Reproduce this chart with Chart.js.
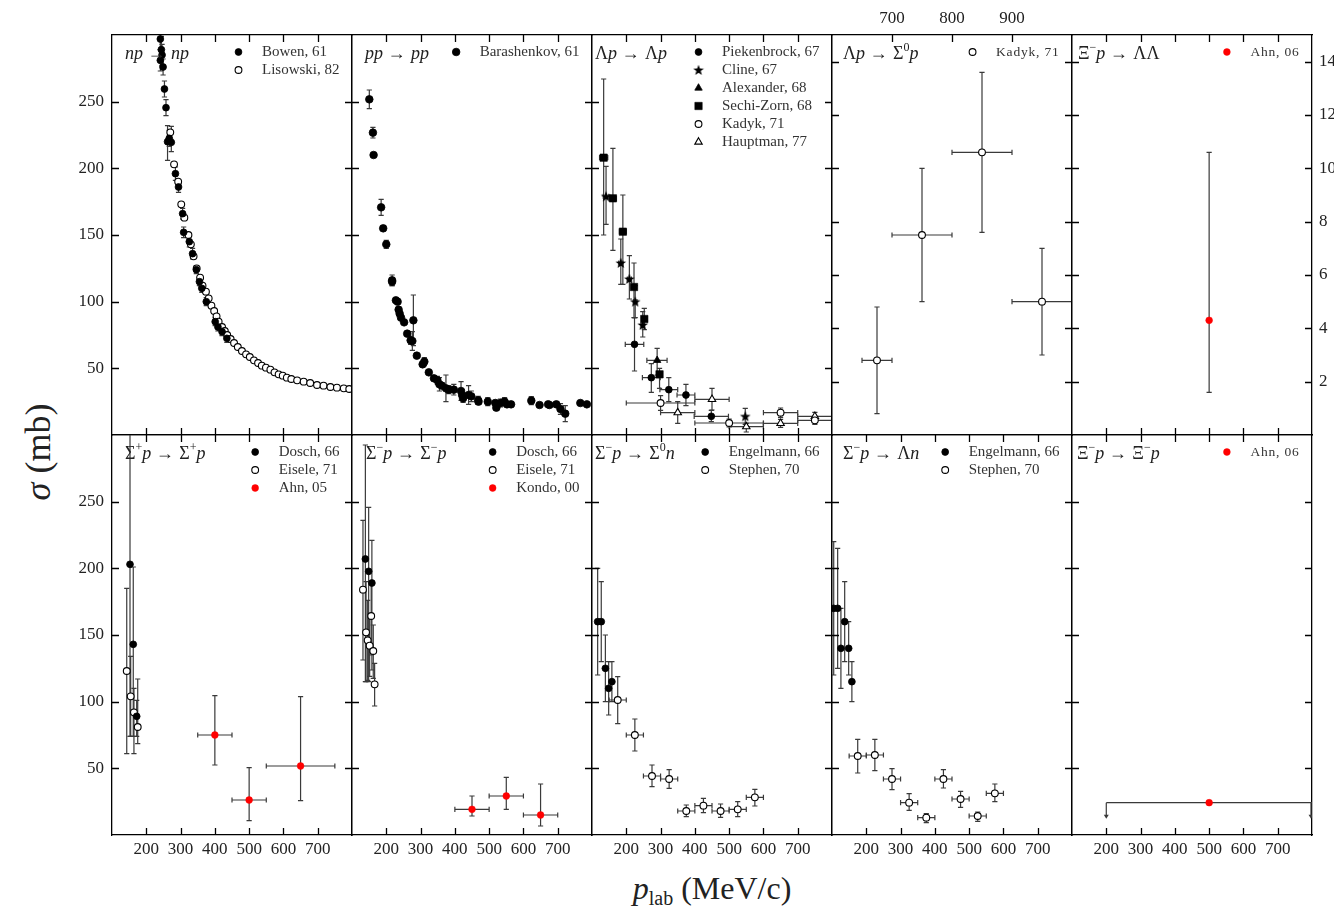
<!DOCTYPE html>
<html>
<head>
<meta charset="utf-8">
<script src="https://cdn.jsdelivr.net/npm/chart.js@4.4.1/dist/chart.umd.min.js"></script>
<style>
  body { margin: 0; background: #fff; width: 1334px; height: 913px; position: relative; overflow: hidden;
         font-family: "Liberation Serif", serif; color: #222; }
  canvas { position: absolute; }
  #ylab { position: absolute; left: 38px; top: 452px; transform: translate(-50%, -50%) rotate(-90deg);
          font-size: 36px; white-space: nowrap; }
  #xlab { position: absolute; left: 712px; top: 890px; transform: translate(-50%, -50%);
          font-size: 32px; white-space: nowrap; line-height: 1; }
  #xlab sub { font-size: 20px; vertical-align: -6px; }
</style>
</head>
<body>
<div id="ylab"><i>σ</i> (mb)</div>
<div id="xlab"><i>p</i><sub>lab</sub> (MeV/c)</div>
<script>
// rows: [p_lab, sigma, errDown, errUp, errLeft, errRight]

// np -> np
const npBowen61 = [
  [241, 297, 8, 8], [244, 289, 10, 10], [246, 285, 8, 8], [241, 281, 8, 8], [249, 276, 6, 6],
  [253, 259.5, 6, 6], [257.5, 245.5, 6, 6], [262, 220, 14, 12], [267, 222.5, 6, 6], [273, 219.5, 7, 12],
  [285, 196, 5, 5], [294, 186, 4, 4], [306, 166, 4, 4], [309, 152, 4, 4], [325.5, 145, 4, 4],
  [335, 136, 4, 4], [346, 124, 3, 3], [355, 115, 3, 3], [362, 110, 3, 3], [375, 100, 3, 3],
  [401, 85, 3, 3], [409, 81, 3, 3], [421, 77.5, 3, 3], [435, 72.5, 3, 3]
];
const npLisowski82 = [
  [270, 227], [281, 203], [293, 190], [302, 173], [311, 163], [323, 150], [330, 143], [338, 134],
  [347, 125], [357, 118], [364, 112], [374, 107.5], [382, 102.5], [390, 97], [398, 93], [405, 89],
  [411, 85], [421, 81], [429, 78], [436, 75], [446, 72], [456, 69], [467, 66], [479, 63],
  [491, 60.5], [502, 58.5], [514, 56], [526, 54], [537, 52], [549, 50.5], [562, 49], [574, 47],
  [586, 45.5], [598, 44.5], [610, 43], [623, 42], [640, 41], [659, 40], [678, 39], [698, 37.5],
  [717, 37], [737, 36], [756, 35.5], [776, 35], [792, 34.5]
];

// pp -> pp
const ppBarashenkov61 = [
  [150.5, 251.75, 7, 7], [161, 226.75, 4, 4], [163, 210], [185, 170.75, 6, 6], [191, 155, 2, 2],
  [200, 143, 3, 3], [217, 116, 4, 4], [217, 115, 3, 3], [228, 101], [233, 100], [236, 94],
  [239, 91], [243, 88], [252, 84.5], [261, 76], [271, 71, 3, 3], [279, 86, 19, 19],
  [276, 70.5, 7, 7], [289, 59.5], [306, 53, 2, 2], [311, 55, 3, 3], [324, 47], [339, 42.5, 2, 2],
  [349, 41, 3, 3], [355, 38, 5, 5], [362, 37, 2, 2], [374, 35, 10, 10], [382, 34, 3, 3],
  [397, 34, 4, 4], [418, 33, 7, 7], [421, 30, 4, 4], [424, 27.5, 3, 3], [440, 30, 7, 7],
  [448, 29, 4, 4], [468, 26, 3, 3], [469, 25, 2, 2], [496, 25, 3, 3], [518, 24, 2, 2],
  [521, 20.5, 2, 2], [533, 24, 3, 3], [545, 25, 3, 3], [552, 23, 2, 2], [564, 23, 2, 2],
  [623, 25.75, 3, 3], [647, 22.5], [672, 23, 1, 1], [676, 22.5, 1, 1], [696, 23, 2, 2],
  [708, 19.5, 4, 4], [722, 16, 6, 6], [766, 24], [785, 23]
];

// Lambda p -> Lambda p
const lpPiekenbrock67 = [
  [224, 68, 20, 20, 27, 27], [273, 43, 11, 10.5, 26, 26], [324, 34, 9, 9, 26, 26],
  [374, 30, 8, 8, 26, 26], [448, 14, 4, 4.5, 50, 50]
];
const lpCline67 = [
  [141, 179, 21, 22.5, 8, 8], [184, 129, 16, 18, 6, 6], [209, 117, 15, 17.5, 6, 6],
  [226, 100, 12, 12, 5, 5], [248, 82.5, 9, 10, 5, 5], [547, 14, 6, 6]
];
const lpAlexander68 = [[290, 56, 11, 9, 30, 29]];
const lpSechiZorn68 = [
  [134, 208, 58, 59, 12, 12], [161, 177.5, 39, 37.5, 10, 10], [190, 152.5, 39.5, 27.5, 10, 10],
  [222.5, 111, 23, 18, 8, 8], [252.5, 87, 8, 8, 8, 8], [297, 45.5, 10.5, 4.5, 8, 8]
];
const lpKadyk71 = [
  [300, 24, 5.5, 5.5, 100, 100], [500, 9, 3, 3, 100, 100],
  [650, 16.75, 3.5, 3.5, 50, 50], [750, 11, 3, 3, 50, 50]
];
const lpHauptman77 = [
  [350, 16.75, 8, 8.25, 50, 50], [450, 26.75, 8, 8.25, 50, 50], [550, 6.25, 4, 2.5, 50, 50],
  [650, 8.75, 3, 3, 50, 50], [750, 14, 3, 3, 50, 50]
];

// Lambda p -> Sigma0 p (right scale)
const lsKadyk71 = [
  [675, 2.8, 2, 2, 25, 25], [750, 7.5, 2.5, 2.5, 50, 50],
  [850, 10.6, 3, 3, 50, 50], [950, 5.0, 2, 2, 50, 50]
];

// Xi- p -> Lambda Lambda (right scale)
const xllAhn06 = [[500, 4.3, 2.7, 6.3]];

// Sigma+ p -> Sigma+ p
const spDosch66 = [[152.5, 203, 129, 120], [162, 143, 69, 58], [172, 89, 15, 12]];
const spEisele71 = [[143, 123, 62, 62], [154.5, 104, 30, 30], [164, 92, 31, 18], [175, 81, 12.5, 36]];
const spAhn05 = [[400, 75, 22.5, 29.5, 50, 50], [500, 26.25, 15.5, 24.25, 50, 50], [650, 51.75, 26, 52, 100, 100]];

// Sigma- p -> Sigma- p
const smDosch66 = [[139, 207, 92, 85.5], [148.6, 197.75, 82.75, 48], [158, 189, 65.25, 32]];
const smEisele71 = [
  [132, 184, 52.75, 52], [141, 152, 37, 38], [145.7, 146, 30, 30], [151.5, 142, 23, 22],
  [156, 164.25, 29.25, 25.75], [162, 138, 20.5, 19.5], [166, 113, 16.25, 15.75]
];
const smKondo00 = [[450, 19.25, 5, 10, 50, 50], [550, 29.25, 10, 14, 50, 50], [650, 15, 8.25, 23.25, 50, 50]];

// Sigma- p -> Sigma0 n
const s0Engelmann66 = [[116.5, 160, 40, 40], [127, 160, 30, 30], [139, 125, 25, 25], [148.6, 110, 20, 20], [158, 115, 15, 15]];
const s0Stephen70 = [
  [175, 101.25, 17.75, 17.5, 25, 25], [225, 75, 12, 12, 25, 25], [275, 44.25, 8, 8.25, 25, 25],
  [325, 42, 7, 7, 25, 25], [375, 18, 4.25, 4.5, 25, 25], [425, 22, 5.25, 5.5, 25, 25],
  [475, 18, 4.75, 5.25, 25, 25], [525, 19.25, 5.5, 5.75, 25, 25], [575, 28.25, 6.5, 6, 25, 25]
];

// Sigma- p -> Lambda n
const lnEngelmann66 = [[105, 170, 50, 50], [116.5, 170, 45, 45], [126, 140, 30, 30], [137, 160, 30, 30], [148.6, 140, 20, 20], [158, 115, 15, 15]];
const lnStephen70 = [
  [175, 59.25, 12.75, 12.5, 25, 25], [225, 60, 11.75, 11.75, 25, 25], [275, 42, 8, 7.75, 25, 25],
  [325, 24.25, 5.75, 6.75, 25, 25], [375, 13, 3.75, 3, 25, 25], [425, 42, 6.75, 7, 25, 25],
  [475, 27, 6.25, 5.75, 25, 25], [525, 14.25, 4, 3, 25, 25], [575, 31.25, 6.25, 7, 25, 25]
];

// Xi- p -> Xi- p (upper limit)
const xxAhn06 = [[500, 24.25, 0, 0, 300, 300]];

const xTicks = [100, 800, 100];
const xTicksHigh = [600, 1000, 100];
const yTicks = [0, 300, 50];
const yTicksSmall = [0, 15, 2];

// ---------------------------------------------------------------
const PW = 240, PH = 400, M = 60;
const colLeft = [112, 352, 592, 832, 1072];
const rowTop = [35, 435];
const FONT = '"Liberation Serif", "DejaVu Serif", serif';

const starImg = document.createElement('canvas');
starImg.width = 12; starImg.height = 12;
(function () {
  const c = starImg.getContext('2d');
  c.beginPath();
  for (let i = 0; i < 10; i++) {
    const r = i % 2 ? 2.3 : 5.6;
    const a = -Math.PI / 2 + i * Math.PI / 5;
    c.lineTo(6 + r * Math.cos(a), 6.4 + r * Math.sin(a));
  }
  c.closePath();
  c.fillStyle = '#000';
  c.fill();
})();

const styles = {
  filled:  { pointStyle: 'circle', pointRadius: 3.4, pointBackgroundColor: '#000', pointBorderColor: '#000', pointBorderWidth: 0.8 },
  big:     { pointStyle: 'circle', pointRadius: 3.8, pointBackgroundColor: '#000', pointBorderColor: '#000', pointBorderWidth: 0.8 },
  open:    { pointStyle: 'circle', pointRadius: 3.4, pointBackgroundColor: '#fff', pointBorderColor: '#000', pointBorderWidth: 1.1 },
  red:     { pointStyle: 'circle', pointRadius: 3.4, pointBackgroundColor: '#ff0000', pointBorderColor: '#ff0000', pointBorderWidth: 0.5 },
  star:    { pointStyle: starImg, pointRadius: 5, pointBackgroundColor: '#000', pointBorderColor: '#000', pointBorderWidth: 0 },
  tri:     { pointStyle: 'triangle', pointRadius: 4.3, pointBackgroundColor: '#000', pointBorderColor: '#000', pointBorderWidth: 0.8 },
  square:  { pointStyle: 'rect', pointRadius: 5.2, pointBackgroundColor: '#000', pointBorderColor: '#000', pointBorderWidth: 0.6 },
  openTri: { pointStyle: 'triangle', pointRadius: 4.3, pointBackgroundColor: '#fff', pointBorderColor: '#000', pointBorderWidth: 1.1 }
};

const panels = [
  { row: 0, col: 0, title: 'np → np', dx: 13, x: xTicks, y: yTicks, yLab: 'left',
    series: [['Bowen, 61', npBowen61, 'filled'], ['Lisowski, 82', npLisowski82, 'open']] },
  { row: 0, col: 1, title: 'pp → pp', dx: 13, x: xTicks, y: yTicks,
    series: [['Barashenkov, 61', ppBarashenkov61, 'big']] },
  { row: 0, col: 2, title: 'Λp → Λp', dx: 3, x: xTicks, y: yTicks,
    series: [['Piekenbrock, 67', lpPiekenbrock67, 'filled'], ['Cline, 67', lpCline67, 'star'],
             ['Alexander, 68', lpAlexander68, 'tri'], ['Sechi-Zorn, 68', lpSechiZorn68, 'square'],
             ['Kadyk, 71', lpKadyk71, 'open'], ['Hauptman, 77', lpHauptman77, 'openTri']] },
  { row: 0, col: 3, title: 'Λp → Σ^0p', dx: 11, x: xTicksHigh, y: yTicksSmall, xLab: 'top', noBottomTicks: true, small: true,
    series: [['Kadyk, 71', lsKadyk71, 'open']] },
  { row: 0, col: 4, title: 'Ξ^−p → ΛΛ', dx: 6, x: xTicks, y: yTicksSmall, yLab: 'right', small: true,
    series: [['Ahn, 06', xllAhn06, 'red']] },
  { row: 1, col: 0, title: 'Σ^+p → Σ^+p', dx: 13, x: xTicks, y: yTicks, yLab: 'left', xLab: 'bottom',
    series: [['Dosch, 66', spDosch66, 'filled'], ['Eisele, 71', spEisele71, 'open'], ['Ahn, 05', spAhn05, 'red']] },
  { row: 1, col: 1, title: 'Σ^−p → Σ^−p', dx: 14, x: xTicks, y: yTicks, xLab: 'bottom',
    series: [['Dosch, 66', smDosch66, 'filled'], ['Eisele, 71', smEisele71, 'open'], ['Kondo, 00', smKondo00, 'red']] },
  { row: 1, col: 2, title: 'Σ^−p → Σ^0n', dx: 3, x: xTicks, y: yTicks, xLab: 'bottom',
    series: [['Engelmann, 66', s0Engelmann66, 'filled'], ['Stephen, 70', s0Stephen70, 'open']] },
  { row: 1, col: 3, title: 'Σ^−p → Λn', dx: 11, x: xTicks, y: yTicks, xLab: 'bottom',
    series: [['Engelmann, 66', lnEngelmann66, 'filled'], ['Stephen, 70', lnStephen70, 'open']] },
  { row: 1, col: 4, title: 'Ξ^−p → Ξ^−p', dx: 5, x: xTicks, y: yTicks, xLab: 'bottom', small: true,
    series: [['Ahn, 06', xxAhn06, 'red', true]] }
];

// error bars, drawn under the markers
const errorBars = {
  id: 'errorBars',
  beforeDatasetsDraw(chart) {
    const { ctx, chartArea: a, scales: { x, y } } = chart;
    const cap = 2.6;
    ctx.save();
    ctx.beginPath();
    ctx.rect(a.left, a.top, a.width, a.height);
    ctx.clip();
    ctx.strokeStyle = '#3a3a3a';
    ctx.fillStyle = '#3a3a3a';
    ctx.lineWidth = 1.2;
    chart.data.datasets.forEach(ds => {
      ds.data.forEach(p => {
        const px = x.getPixelForValue(p.x), py = y.getPixelForValue(p.y);
        ctx.beginPath();
        if (p.yHi > p.yLo) {
          const y1 = y.getPixelForValue(p.yHi), y2 = y.getPixelForValue(p.yLo);
          ctx.moveTo(px, y1); ctx.lineTo(px, y2);
          ctx.moveTo(px - cap, y1); ctx.lineTo(px + cap, y1);
          ctx.moveTo(px - cap, y2); ctx.lineTo(px + cap, y2);
        }
        if (p.xHi > p.xLo) {
          const x1 = x.getPixelForValue(p.xLo), x2 = x.getPixelForValue(p.xHi);
          ctx.moveTo(x1, py); ctx.lineTo(x2, py);
          if (!ds.limitArrows) {
            ctx.moveTo(x1, py - cap); ctx.lineTo(x1, py + cap);
            ctx.moveTo(x2, py - cap); ctx.lineTo(x2, py + cap);
          }
        }
        ctx.stroke();
        if (ds.limitArrows) {
          [p.xLo, p.xHi].forEach(v => {
            const ax = Math.min(x.getPixelForValue(v), a.right - 1);
            ctx.beginPath();
            ctx.moveTo(ax, py); ctx.lineTo(ax, py + 14);
            ctx.stroke();
            ctx.beginPath();
            ctx.moveTo(ax - 2.5, py + 12); ctx.lineTo(ax + 2.5, py + 12); ctx.lineTo(ax, py + 16);
            ctx.closePath(); ctx.fill();
          });
        }
      });
    });
    ctx.restore();
  }
};

// inward tick marks on all four sides, at the scales' own ticks
const innerTicks = {
  id: 'innerTicks',
  afterDraw(chart, args, opts) {
    const { ctx, chartArea: a } = chart;
    const len = 7;
    ctx.save();
    ctx.strokeStyle = '#000';
    ctx.lineWidth = 1.3;
    ctx.beginPath();
    Object.values(chart.scales).forEach(s => {
      if (opts.skip && opts.skip.includes(s.id)) return;
      s.ticks.forEach(t => {
        if (t.value <= s.min || t.value >= s.max) return;
        const p = Math.round(s.getPixelForValue(t.value)) + 0.5;
        if (s.position === 'bottom') { ctx.moveTo(p, a.bottom); ctx.lineTo(p, a.bottom - len); }
        else if (s.position === 'top') { ctx.moveTo(p, a.top); ctx.lineTo(p, a.top + len); }
        else if (s.position === 'left') { ctx.moveTo(a.left, p); ctx.lineTo(a.left + len, p); }
        else { ctx.moveTo(a.right, p); ctx.lineTo(a.right - len, p); }
      });
    });
    ctx.stroke();
    ctx.restore();
  }
};

const panelLegend = {
  id: 'panelLegend',
  afterDraw(chart, args, opts) {
    const { ctx, chartArea: a } = chart;
    ctx.save();
    ctx.font = opts.size + 'px ' + FONT;
    ctx.letterSpacing = opts.spacing + 'px';
    const items = chart.data.datasets;
    const w = Math.max(...items.map(d => ctx.measureText(d.label).width));
    const textX = a.right - 12.5 - w;
    const markX = textX - 23.5;
    items.forEach((d, i) => {
      const yy = a.top + 17 + i * 18;
      ctx.fillStyle = d.pointBackgroundColor;
      ctx.strokeStyle = d.pointBorderColor;
      ctx.lineWidth = d.pointBorderWidth;
      Chart.helpers.drawPoint(ctx, { pointStyle: d.pointStyle, radius: d.pointRadius, rotation: 0, borderWidth: d.pointBorderWidth }, markX, yy);
      ctx.fillStyle = '#333';
      ctx.textBaseline = 'middle';
      ctx.fillText(d.label, textX, yy);
    });
    ctx.restore();
  }
};

// reaction label; lower-case letters italic, ^ marks a superscript
const panelTitle = {
  id: 'panelTitle',
  afterDraw(chart, args, opts) {
    const { ctx, chartArea: a } = chart;
    const chars = [...opts.text];
    let x = a.left + opts.dx;
    const base = a.top + 23.5;
    ctx.save();
    ctx.fillStyle = '#222';
    ctx.textBaseline = 'alphabetic';
    for (let i = 0; i < chars.length; i++) {
      let c = chars[i], sup = false;
      if (c === '^') { sup = true; c = chars[++i]; }
      const italic = /[a-z]/.test(c);
      ctx.font = (italic ? 'italic ' : '') + (sup ? 12 : 18) + 'px ' + FONT;
      ctx.fillText(c, x, sup ? base - 8 : base);
      x += ctx.measureText(c).width + (c === '→' ? 1 : 0);
    }
    ctx.restore();
  }
};

function axis(position, range, labels, padding) {
  const [min, max, step] = range;
  return {
    type: 'linear', position, min, max,
    afterFit: s => { if (s.isHorizontal()) s.height = M; else s.width = M; },
    border: { display: true, color: '#000', width: 1.3 },
    grid: { display: false, drawOnChartArea: false, drawTicks: false },
    ticks: {
      display: labels, stepSize: step, autoSkip: false, maxRotation: 0, padding,
      color: '#222', font: { family: FONT, size: 17 },
      callback: v => (v > min && v < max) ? String(v) : ''
    }
  };
}

panels.forEach(pn => {
  const canvas = document.createElement('canvas');
  canvas.width = PW + 2 * M;
  canvas.height = PH + 2 * M;
  canvas.style.left = (colLeft[pn.col] - M) + 'px';
  canvas.style.top = (rowTop[pn.row] - M) + 'px';
  document.body.appendChild(canvas);

  const datasets = pn.series.map(([label, rows, style, arrows]) => Object.assign({
    label,
    xAxisID: 'x', yAxisID: 'y',
    showLine: false,
    limitArrows: !!arrows,
    data: rows.map(r => ({
      x: r[0], y: r[1],
      yLo: r[1] - (r[2] || 0), yHi: r[1] + (r[3] || 0),
      xLo: r[0] - (r[4] || 0), xHi: r[0] + (r[5] || 0)
    }))
  }, styles[style]));

  new Chart(canvas, {
    type: 'scatter',
    data: { datasets },
    options: {
      responsive: false,
      animation: false,
      events: [],
      layout: { padding: 0 },
      scales: {
        x: axis('bottom', pn.x, pn.xLab === 'bottom', 4),
        xTop: axis('top', pn.x, pn.xLab === 'top', 6),
        y: axis('left', pn.y, pn.yLab === 'left', 8),
        yRight: axis('right', pn.y, pn.yLab === 'right', 7)
      },
      plugins: {
        legend: { display: false },
        tooltip: { enabled: false },
        innerTicks: { skip: pn.noBottomTicks ? ['x'] : [] },
        panelLegend: { size: pn.small ? 13.5 : 15, spacing: pn.small ? 0.8 : 0 },
        panelTitle: { text: pn.title, dx: pn.dx }
      }
    },
    plugins: [errorBars, innerTicks, panelLegend, panelTitle]
  });
});
</script>
</body>
</html>
